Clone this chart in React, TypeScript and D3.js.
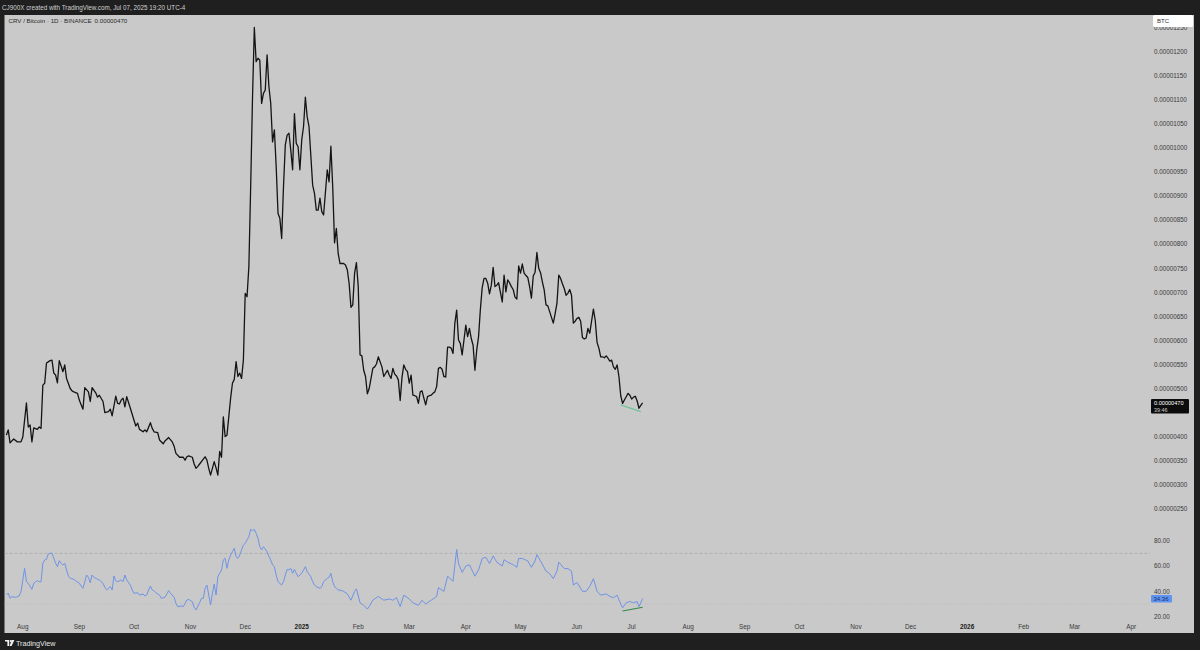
import React from "react";
import * as d3 from "d3";

// ---- DATA ----
const headerText = "CJ900X created with TradingView.com, Jul 07, 2025 19:20 UTC-4";
const symbolText = "CRV / Bitcoin · 1D · BINANCE";
const currencyLabel = "BTC";
const countdownText = "39:46";

// CRV/BTC daily close, in satoshis (1e-8 BTC)
const priceSeries: [string, number][] = [
  ["2024-07-23", 403], ["2024-07-24", 414], ["2024-07-25", 387], ["2024-07-27", 395], ["2024-07-29", 389],
  ["2024-07-31", 389], ["2024-08-01", 399], ["2024-08-03", 470], ["2024-08-04", 420], ["2024-08-05", 424],
  ["2024-08-06", 389], ["2024-08-07", 418], ["2024-08-09", 415], ["2024-08-10", 420], ["2024-08-11", 417],
  ["2024-08-12", 507], ["2024-08-13", 511], ["2024-08-14", 553], ["2024-08-16", 558], ["2024-08-17", 559],
  ["2024-08-18", 532], ["2024-08-19", 528], ["2024-08-20", 512], ["2024-08-21", 558], ["2024-08-22", 547],
  ["2024-08-23", 535], ["2024-08-24", 549], ["2024-08-25", 521], ["2024-08-27", 500], ["2024-08-28", 495],
  ["2024-08-29", 493], ["2024-08-31", 490], ["2024-09-01", 476], ["2024-09-02", 466], ["2024-09-03", 457],
  ["2024-09-04", 502], ["2024-09-06", 493], ["2024-09-07", 473], ["2024-09-08", 502], ["2024-09-10", 491],
  ["2024-09-11", 482], ["2024-09-12", 486], ["2024-09-14", 473], ["2024-09-15", 450], ["2024-09-17", 452],
  ["2024-09-18", 457], ["2024-09-19", 443], ["2024-09-21", 484], ["2024-09-22", 469], ["2024-09-23", 468],
  ["2024-09-24", 476], ["2024-09-25", 480], ["2024-09-26", 462], ["2024-09-27", 483], ["2024-09-29", 459],
  ["2024-10-01", 434], ["2024-10-02", 422], ["2024-10-03", 428], ["2024-10-04", 415], ["2024-10-06", 410],
  ["2024-10-07", 414], ["2024-10-08", 410], ["2024-10-10", 429], ["2024-10-11", 417], ["2024-10-12", 410],
  ["2024-10-14", 408], ["2024-10-15", 393], ["2024-10-17", 385], ["2024-10-18", 391], ["2024-10-20", 398],
  ["2024-10-22", 389], ["2024-10-23", 380], ["2024-10-24", 365], ["2024-10-26", 357], ["2024-10-28", 357],
  ["2024-10-29", 351], ["2024-10-30", 358], ["2024-10-31", 360], ["2024-11-02", 357], ["2024-11-03", 343],
  ["2024-11-04", 334], ["2024-11-05", 338], ["2024-11-06", 343], ["2024-11-08", 353], ["2024-11-09", 358],
  ["2024-11-10", 351], ["2024-11-11", 334], ["2024-11-12", 320], ["2024-11-14", 348], ["2024-11-15", 335],
  ["2024-11-16", 320], ["2024-11-17", 369], ["2024-11-18", 357], ["2024-11-19", 441], ["2024-11-20", 400],
  ["2024-11-21", 403], ["2024-11-23", 480], ["2024-11-24", 511], ["2024-11-25", 519], ["2024-11-26", 556],
  ["2024-11-27", 525], ["2024-11-28", 532], ["2024-11-29", 521], ["2024-11-30", 559], ["2024-12-01", 698],
  ["2024-12-02", 691], ["2024-12-03", 753], ["2024-12-04", 920], ["2024-12-05", 1104], ["2024-12-06", 1251],
  ["2024-12-07", 1180], ["2024-12-08", 1187], ["2024-12-09", 1183], ["2024-12-10", 1093], ["2024-12-11", 1114],
  ["2024-12-12", 1121], ["2024-12-13", 1194], ["2024-12-14", 1128], ["2024-12-15", 1093], ["2024-12-16", 1013],
  ["2024-12-17", 1038], ["2024-12-18", 961], ["2024-12-19", 864], ["2024-12-20", 854], ["2024-12-21", 812],
  ["2024-12-22", 920], ["2024-12-23", 1007], ["2024-12-24", 1027], ["2024-12-25", 1031], ["2024-12-26", 996],
  ["2024-12-27", 955], ["2024-12-28", 1072], ["2024-12-29", 1010], ["2024-12-30", 1003], ["2024-12-31", 955],
  ["2025-01-01", 1017], ["2025-01-02", 1045], ["2025-01-03", 1106], ["2025-01-04", 1065], ["2025-01-05", 1045],
  ["2025-01-07", 923], ["2025-01-08", 906], ["2025-01-09", 871], ["2025-01-10", 871], ["2025-01-11", 896],
  ["2025-01-12", 868], ["2025-01-13", 861], ["2025-01-15", 955], ["2025-01-16", 930], ["2025-01-17", 1004],
  ["2025-01-18", 920], ["2025-01-19", 803], ["2025-01-20", 833], ["2025-01-21", 781], ["2025-01-22", 760],
  ["2025-01-24", 760], ["2025-01-25", 757], ["2025-01-26", 747], ["2025-01-27", 719], ["2025-01-28", 669],
  ["2025-01-29", 674], ["2025-01-30", 740], ["2025-01-31", 762], ["2025-02-01", 712], ["2025-02-02", 570],
  ["2025-02-03", 568], ["2025-02-04", 538], ["2025-02-05", 525], ["2025-02-06", 489], ["2025-02-07", 500],
  ["2025-02-09", 542], ["2025-02-10", 545], ["2025-02-11", 551], ["2025-02-12", 566], ["2025-02-14", 545],
  ["2025-02-15", 525], ["2025-02-17", 538], ["2025-02-18", 528], ["2025-02-19", 521], ["2025-02-20", 542],
  ["2025-02-21", 530], ["2025-02-22", 526], ["2025-02-23", 518], ["2025-02-24", 475], ["2025-02-25", 523],
  ["2025-02-26", 549], ["2025-02-27", 540], ["2025-02-28", 535], ["2025-03-01", 511], ["2025-03-02", 528],
  ["2025-03-03", 486], ["2025-03-04", 485], ["2025-03-05", 483], ["2025-03-06", 469], ["2025-03-07", 493],
  ["2025-03-08", 495], ["2025-03-09", 480], ["2025-03-10", 466], ["2025-03-11", 483], ["2025-03-12", 485],
  ["2025-03-13", 486], ["2025-03-14", 490], ["2025-03-15", 493], ["2025-03-16", 504], ["2025-03-17", 542],
  ["2025-03-18", 544], ["2025-03-19", 540], ["2025-03-20", 525], ["2025-03-21", 524], ["2025-03-22", 586],
  ["2025-03-23", 586], ["2025-03-24", 584], ["2025-03-25", 573], ["2025-03-26", 636], ["2025-03-27", 663],
  ["2025-03-28", 601], ["2025-03-29", 594], ["2025-03-30", 570], ["2025-03-31", 601], ["2025-04-01", 632],
  ["2025-04-02", 608], ["2025-04-03", 625], ["2025-04-04", 604], ["2025-04-05", 590], ["2025-04-06", 538],
  ["2025-04-07", 580], ["2025-04-08", 608], ["2025-04-09", 665], ["2025-04-10", 710], ["2025-04-11", 729],
  ["2025-04-12", 729], ["2025-04-13", 719], ["2025-04-14", 697], ["2025-04-15", 715], ["2025-04-16", 752],
  ["2025-04-17", 712], ["2025-04-18", 715], ["2025-04-19", 720], ["2025-04-20", 700], ["2025-04-21", 680],
  ["2025-04-22", 736], ["2025-04-23", 701], ["2025-04-24", 726], ["2025-04-25", 720], ["2025-04-26", 712],
  ["2025-04-27", 706], ["2025-04-28", 690], ["2025-04-29", 686], ["2025-04-30", 755], ["2025-05-01", 740],
  ["2025-05-02", 759], ["2025-05-03", 740], ["2025-05-04", 735], ["2025-05-05", 731], ["2025-05-06", 712],
  ["2025-05-07", 688], ["2025-05-08", 734], ["2025-05-09", 742], ["2025-05-10", 783], ["2025-05-11", 750],
  ["2025-05-12", 741], ["2025-05-13", 722], ["2025-05-14", 705], ["2025-05-15", 674], ["2025-05-16", 672],
  ["2025-05-17", 660], ["2025-05-18", 648], ["2025-05-19", 636], ["2025-05-20", 656], ["2025-05-21", 677],
  ["2025-05-22", 736], ["2025-05-23", 729], ["2025-05-24", 718], ["2025-05-25", 708], ["2025-05-26", 694],
  ["2025-05-27", 698], ["2025-05-28", 706], ["2025-05-29", 694], ["2025-05-30", 636], ["2025-05-31", 640],
  ["2025-06-01", 646], ["2025-06-02", 648], ["2025-06-03", 640], ["2025-06-04", 606], ["2025-06-05", 603],
  ["2025-06-06", 605], ["2025-06-07", 625], ["2025-06-08", 615], ["2025-06-09", 640], ["2025-06-10", 665],
  ["2025-06-11", 642], ["2025-06-12", 596], ["2025-06-13", 584], ["2025-06-14", 566], ["2025-06-15", 566],
  ["2025-06-16", 564], ["2025-06-17", 568], ["2025-06-18", 563], ["2025-06-19", 557], ["2025-06-20", 559],
  ["2025-06-21", 545], ["2025-06-22", 540], ["2025-06-23", 549], ["2025-06-24", 525], ["2025-06-25", 485],
  ["2025-06-26", 469], ["2025-06-27", 476], ["2025-06-28", 483], ["2025-06-29", 490], ["2025-06-30", 486],
  ["2025-07-01", 478], ["2025-07-02", 482], ["2025-07-03", 484], ["2025-07-04", 474], ["2025-07-05", 459],
  ["2025-07-06", 465], ["2025-07-07", 470],
];

// RSI(14)
const rsiSeries: [string, number][] = [
  ["2024-07-23", 37.1], ["2024-07-24", 38.7], ["2024-07-25", 34.5], ["2024-07-26", 35.8], ["2024-07-28", 35.3],
  ["2024-07-29", 35.8], ["2024-07-30", 36.3], ["2024-07-31", 39.7], ["2024-08-01", 49.0], ["2024-08-02", 58.2],
  ["2024-08-03", 47.6], ["2024-08-04", 46.4], ["2024-08-06", 41.6], ["2024-08-07", 46.4], ["2024-08-08", 47.6],
  ["2024-08-09", 48.4], ["2024-08-10", 47.6], ["2024-08-11", 47.6], ["2024-08-12", 62.2], ["2024-08-13", 64.8],
  ["2024-08-14", 65.3], ["2024-08-15", 69.5], ["2024-08-16", 70.1], ["2024-08-17", 70.1], ["2024-08-18", 66.1],
  ["2024-08-19", 62.2], ["2024-08-20", 59.5], ["2024-08-21", 64.2], ["2024-08-22", 62.2], ["2024-08-23", 60.8],
  ["2024-08-24", 62.2], ["2024-08-25", 56.9], ["2024-08-26", 52.1], ["2024-08-27", 50.3], ["2024-08-29", 49.5],
  ["2024-08-30", 48.4], ["2024-09-01", 46.4], ["2024-09-02", 44.2], ["2024-09-03", 42.4], ["2024-09-04", 47.6],
  ["2024-09-05", 52.9], ["2024-09-06", 51.1], ["2024-09-07", 46.8], ["2024-09-08", 52.9], ["2024-09-09", 51.1],
  ["2024-09-11", 49.5], ["2024-09-12", 49.0], ["2024-09-14", 46.4], ["2024-09-15", 43.2], ["2024-09-16", 41.1],
  ["2024-09-17", 42.4], ["2024-09-18", 43.7], ["2024-09-19", 41.1], ["2024-09-20", 52.1], ["2024-09-21", 48.4],
  ["2024-09-22", 47.6], ["2024-09-24", 49.0], ["2024-09-25", 47.6], ["2024-09-26", 52.9], ["2024-09-27", 49.0],
  ["2024-09-29", 45.0], ["2024-09-30", 41.1], ["2024-10-01", 38.5], ["2024-10-03", 38.9], ["2024-10-04", 37.1],
  ["2024-10-06", 37.9], ["2024-10-07", 36.3], ["2024-10-08", 37.1], ["2024-10-09", 41.1], ["2024-10-10", 44.2],
  ["2024-10-11", 41.1], ["2024-10-12", 40.5], ["2024-10-13", 38.9], ["2024-10-15", 37.1], ["2024-10-16", 34.5],
  ["2024-10-18", 35.3], ["2024-10-19", 37.9], ["2024-10-20", 40.5], ["2024-10-21", 38.5], ["2024-10-23", 35.3],
  ["2024-10-24", 30.6], ["2024-10-25", 27.9], ["2024-10-27", 28.5], ["2024-10-28", 27.9], ["2024-10-30", 33.2],
  ["2024-10-31", 33.7], ["2024-11-02", 31.8], ["2024-11-03", 27.4], ["2024-11-04", 25.3], ["2024-11-06", 31.1],
  ["2024-11-07", 34.5], ["2024-11-08", 34.5], ["2024-11-09", 42.4], ["2024-11-10", 45.0], ["2024-11-11", 37.1],
  ["2024-11-12", 29.2], ["2024-11-13", 38.5], ["2024-11-14", 45.8], ["2024-11-15", 37.1], ["2024-11-16", 51.6],
  ["2024-11-17", 54.3], ["2024-11-18", 56.9], ["2024-11-19", 64.8], ["2024-11-20", 66.1], ["2024-11-21", 58.2],
  ["2024-11-22", 64.8], ["2024-11-23", 68.7], ["2024-11-24", 71.3], ["2024-11-25", 74.0], ["2024-11-26", 67.4],
  ["2024-11-27", 66.1], ["2024-11-28", 68.7], ["2024-11-29", 72.7], ["2024-11-30", 76.6], ["2024-12-01", 77.9],
  ["2024-12-02", 80.6], ["2024-12-03", 83.2], ["2024-12-04", 89.0], ["2024-12-05", 87.9], ["2024-12-06", 89.0],
  ["2024-12-07", 85.8], ["2024-12-08", 81.9], ["2024-12-09", 75.3], ["2024-12-10", 72.7], ["2024-12-11", 75.3],
  ["2024-12-13", 71.3], ["2024-12-14", 67.4], ["2024-12-15", 64.8], ["2024-12-16", 60.8], ["2024-12-17", 59.5],
  ["2024-12-18", 52.9], ["2024-12-19", 47.6], ["2024-12-21", 45.0], ["2024-12-22", 47.6], ["2024-12-23", 52.9],
  ["2024-12-24", 57.4], ["2024-12-25", 56.9], ["2024-12-26", 58.2], ["2024-12-27", 54.3], ["2024-12-28", 57.4],
  ["2024-12-29", 54.3], ["2024-12-30", 51.6], ["2025-01-01", 54.3], ["2025-01-02", 56.9], ["2025-01-03", 59.5],
  ["2025-01-04", 55.5], ["2025-01-06", 51.6], ["2025-01-07", 47.6], ["2025-01-08", 45.0], ["2025-01-09", 43.7],
  ["2025-01-11", 42.4], ["2025-01-12", 43.7], ["2025-01-13", 47.6], ["2025-01-15", 50.3], ["2025-01-16", 51.1],
  ["2025-01-17", 54.3], ["2025-01-18", 47.6], ["2025-01-19", 43.7], ["2025-01-20", 42.4], ["2025-01-21", 41.1],
  ["2025-01-22", 41.0], ["2025-01-24", 40.0], ["2025-01-26", 38.0], ["2025-01-28", 33.0], ["2025-01-30", 40.0],
  ["2025-01-31", 42.0], ["2025-02-02", 31.0], ["2025-02-04", 29.0], ["2025-02-06", 26.0], ["2025-02-07", 28.0],
  ["2025-02-09", 33.0], ["2025-02-12", 36.0], ["2025-02-15", 33.0], ["2025-02-18", 34.0], ["2025-02-20", 33.0],
  ["2025-02-22", 35.0], ["2025-02-24", 28.0], ["2025-02-26", 37.0], ["2025-03-01", 34.0], ["2025-03-03", 31.0],
  ["2025-03-06", 29.0], ["2025-03-08", 33.0], ["2025-03-10", 30.0], ["2025-03-13", 33.0], ["2025-03-16", 36.0],
  ["2025-03-17", 43.0], ["2025-03-20", 40.0], ["2025-03-22", 52.0], ["2025-03-25", 48.0], ["2025-03-27", 73.0],
  ["2025-03-28", 62.0], ["2025-03-30", 55.0], ["2025-04-01", 60.0], ["2025-04-03", 61.0], ["2025-04-06", 52.0],
  ["2025-04-08", 57.0], ["2025-04-10", 66.0], ["2025-04-12", 67.0], ["2025-04-14", 62.0], ["2025-04-16", 68.0],
  ["2025-04-18", 63.0], ["2025-04-21", 60.0], ["2025-04-22", 65.0], ["2025-04-24", 63.0], ["2025-04-27", 61.0],
  ["2025-04-29", 59.0], ["2025-04-30", 66.0], ["2025-05-02", 66.0], ["2025-05-05", 64.0], ["2025-05-07", 59.0],
  ["2025-05-09", 64.0], ["2025-05-10", 69.0], ["2025-05-12", 64.0], ["2025-05-15", 56.0], ["2025-05-17", 54.0],
  ["2025-05-19", 50.0], ["2025-05-21", 56.0], ["2025-05-22", 63.0], ["2025-05-25", 58.0], ["2025-05-27", 58.0],
  ["2025-05-29", 56.0], ["2025-05-30", 45.0], ["2025-06-01", 47.0], ["2025-06-04", 40.0], ["2025-06-06", 40.0],
  ["2025-06-08", 44.0], ["2025-06-10", 50.0], ["2025-06-12", 40.0], ["2025-06-14", 37.0], ["2025-06-17", 38.0],
  ["2025-06-19", 36.0], ["2025-06-21", 35.0], ["2025-06-23", 37.0], ["2025-06-25", 30.0], ["2025-06-26", 27.0],
  ["2025-06-28", 31.0], ["2025-06-30", 32.0], ["2025-07-02", 31.0], ["2025-07-04", 32.0], ["2025-07-05", 28.0],
  ["2025-07-06", 31.0], ["2025-07-07", 34.36],
];

// Divergence trend lines drawn on the chart
const priceDivergence: [string, number][] = [["2025-06-25", 466], ["2025-07-06", 452]];
const rsiDivergence: [string, number][] = [["2025-06-26", 24.5], ["2025-07-07", 27.4]];

const priceTicks = [250, 300, 350, 400, 450, 500, 550, 600, 650, 700, 750, 800, 850, 900, 950, 1000, 1050, 1100, 1150, 1200, 1250];
const rsiTicks = [20, 40, 60, 80];
const rsiBands = [70, 30];
const timeDomain = ["2024-08-01", "2026-04-01"];
const monthEnd = "2026-04-02";

// ---- CHART ----
const FONT = "'Liberation Sans', Arial, sans-serif";

export default function App() {
  const parse = d3.utcParse("%Y-%m-%d");
  const x = d3
    .scaleUtc()
    .domain([parse(timeDomain[0])!, parse(timeDomain[1])!])
    .range([22.8, 1131.2]);
  const yP = d3.scaleLinear().domain([250, 1200]).range([508.7, 52]);
  const yR = d3.scaleLinear().domain([20, 80]).range([616.7, 540.7]);

  const panel = { x0: 4.5, y0: 15, x1: 1194, y1: 633 };
  const plotRight = 1150;

  const priceLine = d3
    .line<[string, number]>()
    .x((d) => x(parse(d[0])!))
    .y((d) => yP(d[1]));
  const rsiLine = d3
    .line<[string, number]>()
    .x((d) => x(parse(d[0])!))
    .y((d) => yR(d[1]));

  const months = d3.utcMonth.range(parse(timeDomain[0])!, parse(monthEnd)!);
  const fmtMonth = d3.utcFormat("%b");
  const fmtYear = d3.utcFormat("%Y");

  const lastPrice = priceSeries[priceSeries.length - 1][1];
  const lastRsi = rsiSeries[rsiSeries.length - 1][1];
  const fmtPrice = (v: number) => (v / 1e8).toFixed(8);

  const axisX = 1154;
  const labelTop = yP(lastPrice) - 4;
  const labelH = 14.5;
  // TradingView hides axis ticks that sit under the last-price label
  const visiblePriceTicks = priceTicks.filter(
    (t) => yP(t) < labelTop - 3 || yP(t) > labelTop + labelH + 3
  );

  return (
    <div style={{ position: "absolute", left: 0, top: 0, width: 1200, height: 650 }}>
      <svg width={1200} height={650} style={{ display: "block" }} fontFamily={FONT}>
        <defs>
          <clipPath id="plotClip">
            <rect x={panel.x0} y={panel.y0} width={plotRight - panel.x0} height={panel.y1 - panel.y0} />
          </clipPath>
        </defs>
        <rect x={0} y={0} width={1200} height={650} fill="#1f1f1f" />
        <text x={2} y={9.5} fontSize={6.3} fill="#d2d2d2">
          {headerText}
        </text>
        <rect x={panel.x0} y={panel.y0} width={panel.x1 - panel.x0} height={panel.y1 - panel.y0} fill="#c9c9c9" />

        {/* legend */}
        <text x={8.5} y={23.2} fontSize={6.2} fill="#2a2a2a">
          {symbolText}
          <tspan dx={3}>{fmtPrice(lastPrice)}</tspan>
        </text>

        {/* RSI bands */}
        {rsiBands.map((b, i) => (
          <line
            key={b}
            x1={panel.x0}
            x2={plotRight}
            y1={yR(b)}
            y2={yR(b)}
            stroke={i === 0 ? "#a9a9a9" : "#bfbfbf"}
            strokeWidth={0.8}
            strokeDasharray="3,2"
          />
        ))}

        <g clipPath="url(#plotClip)">
          <path d={priceLine(priceSeries) || ""} fill="none" stroke="#141414" strokeWidth={1.3} strokeLinejoin="round" />
          <path d={priceLine(priceDivergence) || ""} fill="none" stroke="#6fc39a" strokeWidth={1.2} />
          <path d={rsiLine(rsiSeries) || ""} fill="none" stroke="#6f93e6" strokeWidth={1} strokeLinejoin="round" />
          <path d={rsiLine(rsiDivergence) || ""} fill="none" stroke="#2f8a4a" strokeWidth={1.1} />
        </g>

        {/* price axis */}
        {visiblePriceTicks.map((t) => (
          <text key={t} x={axisX} y={yP(t) + 2.2} fontSize={6.3} fill="#3a3a3a">
            {fmtPrice(t)}
          </text>
        ))}
        {/* RSI axis */}
        {rsiTicks.map((t) => (
          <text key={t} x={axisX} y={yR(t) + 2.2} fontSize={6.3} fill="#3a3a3a">
            {t.toFixed(2)}
          </text>
        ))}

        {/* currency box */}
        <rect x={1153} y={15} width={40} height={12} rx={1.5} fill="#ffffff" />
        <text x={1157} y={23.3} fontSize={6} fill="#333">
          {currencyLabel}
        </text>

        {/* last price label */}
        <rect x={1151} y={labelTop} width={38} height={labelH} rx={1} fill="#0c0c0c" />
        <text x={1154} y={labelTop + 6.2} fontSize={5.6} fill="#ffffff">
          {fmtPrice(lastPrice)}
        </text>
        <text x={1154} y={labelTop + 12.8} fontSize={5.4} fill="#cfcfcf">
          {countdownText}
        </text>

        {/* last RSI label */}
        <rect x={1151} y={yR(lastRsi) - 3.5} width={21} height={7.5} rx={1} fill="#5f93f0" />
        <text x={1153.5} y={yR(lastRsi) + 2.2} fontSize={6} fill="#16306a">
          {lastRsi.toFixed(2)}
        </text>

        {/* time axis */}
        {months.map((m) => {
          const isJan = m.getUTCMonth() === 0;
          return (
            <text
              key={m.toISOString()}
              x={x(m)}
              y={628.5}
              fontSize={6.4}
              textAnchor="middle"
              fill={isJan ? "#1a1a1a" : "#3a3a3a"}
              fontWeight={isJan ? "bold" : "normal"}
            >
              {isJan ? fmtYear(m) : fmtMonth(m)}
            </text>
          );
        })}

        {/* footer logo */}
        <g transform="translate(5,640)">
          <path d="M0,0 H4.2 V6 H2.4 V1.6 H0 Z" fill="#f0f0f0" />
          <circle cx={5.6} cy={1} r={1} fill="#f0f0f0" />
          <path d="M6.6,0 H9.4 L6.6,6 H4.6 Z" fill="#f0f0f0" />
        </g>
        <text x={16} y={646} fontSize={7.2} fill="#e6e6e6">
          TradingView
        </text>
      </svg>
    </div>
  );
}
